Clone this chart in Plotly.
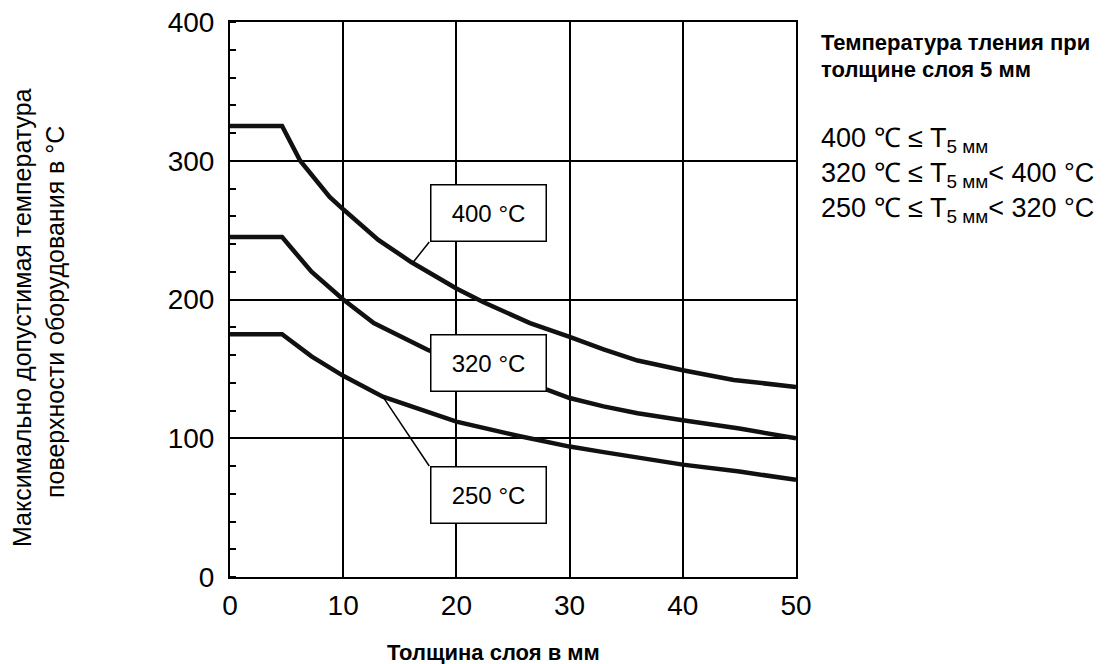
import plotly.graph_objects as go

# ---- data ----
x_400 = [0, 4.6, 6.2, 8.8, 10, 11.8, 13.1, 16, 20, 22.4, 26.5, 30, 33, 36, 40, 44.5, 50]
y_400 = [325, 325, 300, 274, 265, 252, 243, 227, 208, 198, 183, 173, 164, 156, 149, 142, 137]

x_320 = [0, 4.6, 7.2, 10, 12.7, 17.4, 20, 24, 28, 30, 33, 36, 40, 45, 50]
y_320 = [245, 245, 220, 200, 183, 164, 155, 143, 135, 129, 123, 118, 113, 107, 100]

x_250 = [0, 4.6, 7.2, 10, 13.5, 20, 25.3, 30, 33, 40, 45, 50]
y_250 = [175, 175, 159, 145, 130, 112, 102, 94, 90, 81, 76, 70]

curve_labels = ["400 °C", "320 °C", "250 °C"]
label_x = [22.8, 22.8, 22.8]
label_y = [262, 154, 59]
# leader lines: (box corner) -> (point on curve)
leader_from = [(17.6, 241.5), None, (17.6, 80)]
leader_to = [(16.2, 227), None, (13.5, 130)]

x_ticks = [0, 10, 20, 30, 40, 50]
y_ticks = [0, 100, 200, 300, 400]

legend_title = ["Температура тления при", "толщине слоя 5 мм"]
legend_rows = [
    "400 ℃ ≤ T<sub>5 мм</sub>",
    "320 ℃ ≤ T<sub>5 мм</sub>< 400 °C",
    "250 ℃ ≤ T<sub>5 мм</sub>< 320 °C",
]
x_title = "Толщина слоя в мм"
y_title_lines = ["Максимально допустимая температура", "поверхности оборудования в °С"]

FONT = "Liberation Sans, Arial, sans-serif"

fig = go.Figure()
for xs, ys in [(x_400, y_400), (x_320, y_320), (x_250, y_250)]:
    fig.add_trace(go.Scatter(x=xs, y=ys, mode="lines",
                             line=dict(color="#111111", width=4.5),
                             showlegend=False, hoverinfo="skip"))

W, H = 1114, 664
ml, mr, mt, mb = 230, 318, 22, 87

fig.update_layout(
    width=W, height=H,
    margin=dict(l=ml, r=mr, t=mt, b=mb, autoexpand=False),
    paper_bgcolor="white", plot_bgcolor="white",
    font=dict(family=FONT, color="black"),
    showlegend=False,
)
fig.update_xaxes(range=[0, 50], tickvals=x_ticks, showgrid=True, gridcolor="black", gridwidth=1.5,
                 showline=True, linecolor="black", linewidth=2, mirror=True, automargin=False,
                 ticks="", tickfont=dict(size=28, family=FONT), zeroline=False, fixedrange=True,
                 ticklabelstandoff=2)
fig.update_yaxes(range=[0, 400], tickvals=y_ticks, showgrid=True, gridcolor="black", gridwidth=1.5,
                 showline=True, linecolor="black", linewidth=2, mirror=True, automargin=False,
                 ticks="", tickfont=dict(size=28, family=FONT), zeroline=False, fixedrange=True,
                 ticklabelstandoff=8,
                 minor=dict(dtick=20, ticks="inside", ticklen=6, tickcolor="black", tickwidth=1.5,
                            showgrid=False))

# curve labels (boxes)
for t, lx, ly in zip(curve_labels, label_x, label_y):
    fig.add_annotation(x=lx, y=ly, xref="x", yref="y", text=t, showarrow=False,
                       font=dict(size=24, family=FONT), bgcolor="white",
                       bordercolor="black", borderwidth=1.5, borderpad=0,
                       width=114, height=55)

for a, b in zip(leader_from, leader_to):
    if a is None:
        continue
    fig.add_shape(type="line", xref="x", yref="y", x0=a[0], y0=a[1], x1=b[0], y1=b[1],
                  line=dict(color="black", width=1.5))

pw = W - ml - mr
ph = H - mt - mb

def px(xpix):
    return (xpix - ml) / pw

def py(ypix):
    return (H - mb - ypix) / ph

# right-hand legend text
for i, t in enumerate(legend_title):
    fig.add_annotation(x=px(819), y=py([43, 69][i]), xref="paper", yref="paper",
                       text="<b>" + t + "</b>", showarrow=False, xanchor="left", yanchor="middle",
                       font=dict(size=22, family=FONT))
for i, t in enumerate(legend_rows):
    fig.add_annotation(x=px(819), y=py([140, 175, 210][i]), xref="paper", yref="paper",
                       text=t, showarrow=False, xanchor="left", yanchor="middle",
                       font=dict(size=27, family=FONT))

# axis titles
fig.add_annotation(x=px(493), y=py(652), xref="paper", yref="paper",
                   text="<b>" + x_title + "</b>", showarrow=False, xanchor="center", yanchor="middle",
                   font=dict(size=22, family=FONT))
for i, t in enumerate(y_title_lines):
    fig.add_annotation(x=px([22, 55][i]), y=py([318, 312][i]), xref="paper", yref="paper",
                       text=t, showarrow=False, textangle=-90, xanchor="center", yanchor="middle",
                       font=dict(size=25, family=FONT))

fig.write_html("out.html", config={"displayModeBar": False},
               post_script="document.body.style.margin='0';document.body.style.overflow='hidden';")
